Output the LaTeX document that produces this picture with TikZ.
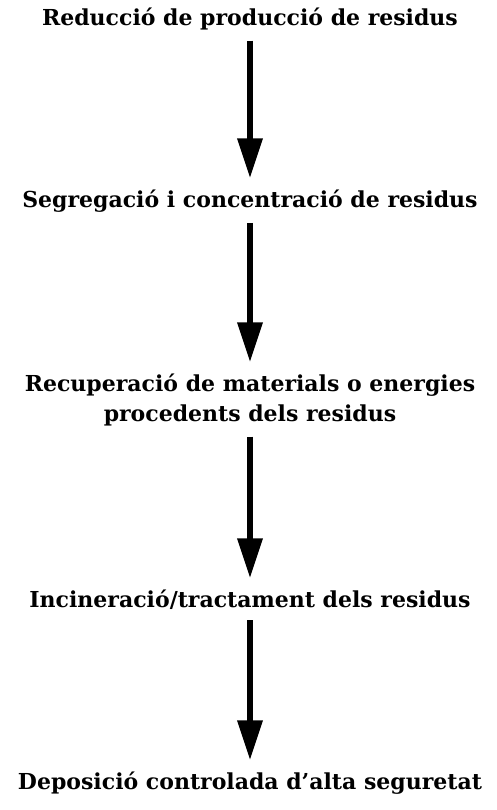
\documentclass[tikz,border=0pt]{standalone}
\usepackage{fontspec}
\setmainfont{DejaVu Serif}
\usetikzlibrary{arrows.meta}

\begin{document}
\begin{tikzpicture}[x=0.5pt,y=-0.5pt,
    stage/.style ={inner sep=0pt, outer ysep=5.5pt, anchor=base, align=center,
      font=\bfseries\fontsize{11}{15}\selectfont},
    flow/.style ={line width=3.3pt, -{Triangle[length=20pt,width=12pt]}}]
   \useasboundingbox (0,0) rectangle (497,810);
   \node[stage] (A)  at (250,25)  {Reducció de producció de residus};
   \node[stage] (B)  at (250,207)  {Segregació i concentració de residus};
   \node[stage] (C)  at (250,421)  {Recuperació de materials o energies\\procedents dels residus};
   \node[stage] (D)  at (250,607)  {Incineració/tractament dels residus};
   \node[stage] (E)  at (250,789)  {Deposició controlada d'alta seguretat};

   \draw[flow] (A) to (B);
   \draw[flow] (B) to (C);
   \draw[flow] (C) to (D);
   \draw[flow] (D) to (E);
 \end{tikzpicture}
\end{document}
